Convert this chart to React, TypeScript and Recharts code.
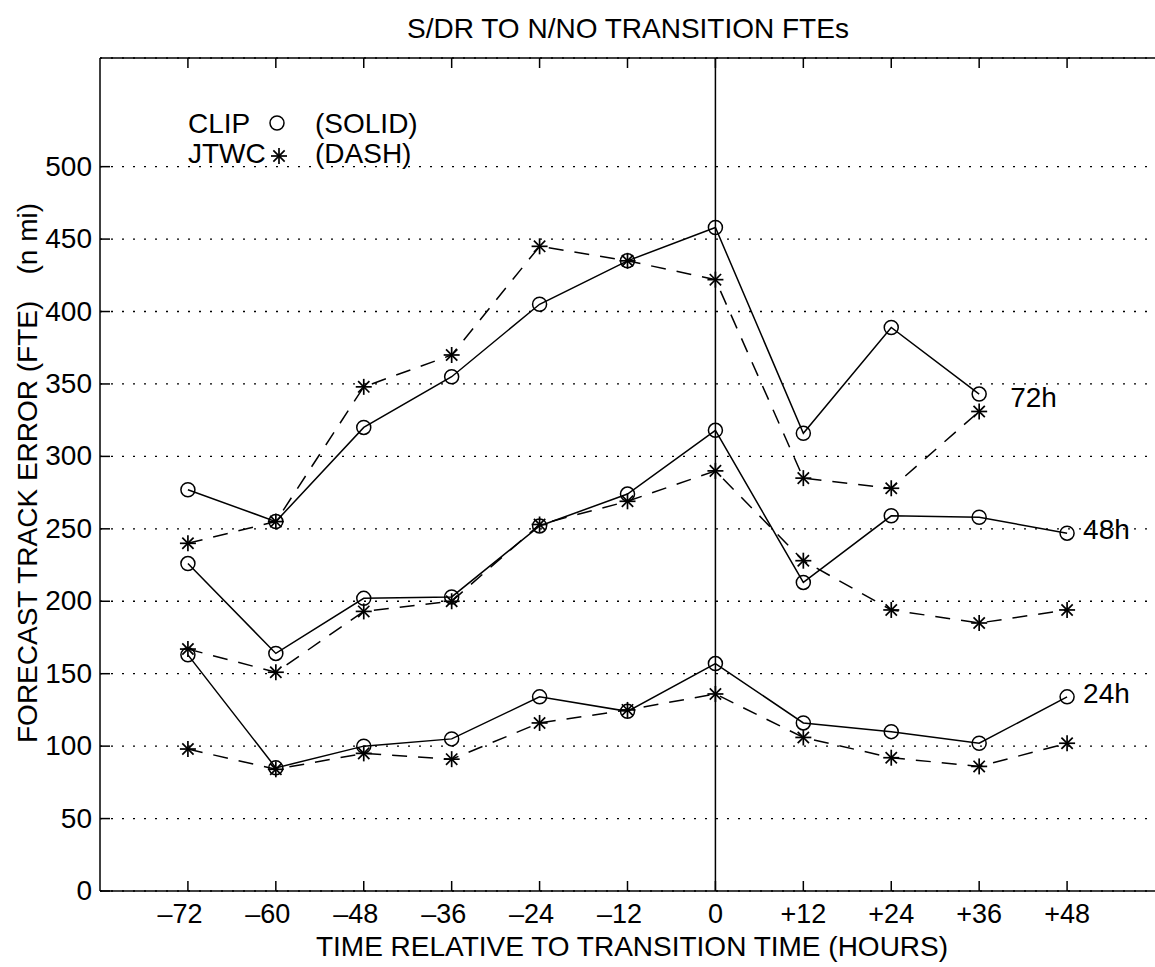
import React from "react";
import {
  LineChart,
  Line,
  XAxis,
  YAxis,
  CartesianGrid,
  ReferenceLine,
  Customized,
} from "recharts";

const FONT = "'Liberation Sans', Arial, Helvetica, sans-serif";

// hours relative to transition time
const hours = [-72, -60, -48, -36, -24, -12, 0, 12, 24, 36, 48];

// forecast track errors (n mi)
const clip72 = [277, 255, 320, 355, 405, 435, 458, 316, 389, 343, null];
const jtwc72 = [240, 255, 348, 370, 445, 435, 422, 285, 278, 331, null];
const clip48 = [226, 164, 202, 203, 252, 274, 318, 213, 259, 258, 247];
const jtwc48 = [167, 151, 193, 200, 253, 269, 290, 228, 194, 185, 194];
const clip24 = [163, 85, 100, 105, 134, 124, 157, 116, 110, 102, 134];
const jtwc24 = [98, 84, 95, 91, 116, 125, 136, 106, 92, 86, 102];

const yTicks = [0, 50, 100, 150, 200, 250, 300, 350, 400, 450, 500];

const data = hours.map((h, i) => ({
  h,
  clip72: clip72[i],
  jtwc72: jtwc72[i],
  clip48: clip48[i],
  jtwc48: jtwc48[i],
  clip24: clip24[i],
  jtwc24: jtwc24[i],
}));

const fmtHour = (v: number) => (v < 0 ? `\u2013${-v}` : v > 0 ? `+${v}` : "0");

function starMark(cx: number, cy: number, r: number) {
  return [0, 45, 90, 135].map((a) => {
    const rad = (a * Math.PI) / 180;
    const dx = r * Math.cos(rad);
    const dy = r * Math.sin(rad);
    return (
      <line
        key={a}
        x1={cx - dx}
        y1={cy - dy}
        x2={cx + dx}
        y2={cy + dy}
        stroke="#000"
        strokeWidth={1.7}
      />
    );
  });
}

const CircleDot = (p: any) => {
  if (p.value == null || p.cy == null) return <g key={`c-${p.dataKey}-${p.index}`} />;
  return (
    <circle
      key={`c-${p.dataKey}-${p.index}`}
      cx={p.cx}
      cy={p.cy}
      r={7}
      fill="none"
      stroke="#000"
      strokeWidth={1.5}
    />
  );
};

const StarDot = (p: any) => {
  if (p.value == null || p.cy == null) return <g key={`s-${p.dataKey}-${p.index}`} />;
  return <g key={`s-${p.dataKey}-${p.index}`}>{starMark(p.cx, p.cy, 8)}</g>;
};

function endLabel(text: string, values: (number | null)[], dx: number, dy: number) {
  let last = values.length - 1;
  while (last > 0 && values[last] == null) last--;
  return (p: any) => {
    if (p.index !== last) return null;
    return (
      <text x={p.x + dx} y={p.y + dy} fontSize={28} fontFamily={FONT} fill="#000">
        {text}
      </text>
    );
  };
}

const BottomTick = ({ x, y, payload }: any) => {
  const v = payload.value;
  return (
    <g>
      <line x1={x} x2={x} y1={y} y2={y - 10} stroke="#000" strokeWidth={1.5} />
      <text
        x={v < 0 ? x - 8 : x}
        y={y + 32}
        textAnchor="middle"
        fontSize={27}
        fontFamily={FONT}
        fill="#000"
      >
        {fmtHour(v)}
      </text>
    </g>
  );
};

const TopTick = ({ x, y }: any) => (
  <line x1={x} x2={x} y1={y} y2={y + 10} stroke="#000" strokeWidth={1.5} />
);

const LeftTick = ({ x, y, payload }: any) => (
  <g>
    <line x1={x} x2={x + 10} y1={y} y2={y} stroke="#000" strokeWidth={1.5} />
    <text x={x - 8} y={y + 9} textAnchor="end" fontSize={28} fontFamily={FONT} fill="#000">
      {payload.value}
    </text>
  </g>
);

const Annotations = () => (
  <g fontFamily={FONT} fontSize={28} fill="#000">
    <text x={628} y={38} textAnchor="middle">
      S/DR TO N/NO TRANSITION FTEs
    </text>
    <text x={632} y={956} textAnchor="middle">
      TIME RELATIVE TO TRANSITION TIME (HOURS)
    </text>
    <text transform="translate(37,743) rotate(-90)" textAnchor="start">
      FORECAST TRACK ERROR (FTE)
    </text>
    <text transform="translate(37,203) rotate(-90)" textAnchor="end">
      (n mi)
    </text>
    <text x={188} y={133}>CLIP</text>
    <circle cx={277} cy={123} r={7} fill="none" stroke="#000" strokeWidth={1.5} />
    <text x={315} y={133}>(SOLID)</text>
    <text x={188} y={163}>JTWC</text>
    {starMark(279, 156, 8)}
    <text x={315} y={163}>(DASH)</text>
  </g>
);

export default function App() {
  return (
    <div style={{ position: "absolute", left: 0, top: 0, width: 1155, height: 967, background: "#fff" }}>
      <LineChart
        width={1155}
        height={967}
        data={data}
        margin={{ top: 38, right: 0, bottom: 0, left: 0 }}
      >
        <CartesianGrid
          vertical={false}
          stroke="#000"
          strokeWidth={1.3}
          strokeDasharray="2 9"
        />
        <XAxis
          dataKey="h"
          type="number"
          domain={[-84, 60]}
          ticks={hours}
          allowDataOverflow
          height={76}
          tickSize={0}
          tickMargin={0}
          tickLine={false}
          tick={<BottomTick />}
          axisLine={{ stroke: "#000", strokeWidth: 1.5 }}
          interval={0}
        />
        <XAxis
          xAxisId="top"
          orientation="top"
          dataKey="h"
          type="number"
          domain={[-84, 60]}
          ticks={hours}
          allowDataOverflow
          height={20}
          tickSize={0}
          tickMargin={0}
          tickLine={false}
          tick={<TopTick />}
          axisLine={{ stroke: "#000", strokeWidth: 1.5 }}
          interval={0}
        />
        <YAxis
          type="number"
          domain={[0, 575]}
          ticks={yTicks}
          allowDataOverflow
          width={100}
          tickSize={0}
          tickMargin={0}
          tickLine={false}
          tick={<LeftTick />}
          axisLine={{ stroke: "#000", strokeWidth: 1.5 }}
          interval={0}
        />
        <ReferenceLine x={0} stroke="#000" strokeWidth={1.5} />

        <Line
          dataKey="clip72"
          stroke="#000"
          strokeWidth={1.5}
          dot={CircleDot}
          activeDot={false}
          isAnimationActive={false}
          label={endLabel("72h", clip72, 31, 13)}
        />
        <Line
          dataKey="jtwc72"
          stroke="#000"
          strokeWidth={1.5}
          strokeDasharray="15 11"
          dot={StarDot}
          activeDot={false}
          isAnimationActive={false}
        />
        <Line
          dataKey="clip48"
          stroke="#000"
          strokeWidth={1.5}
          dot={CircleDot}
          activeDot={false}
          isAnimationActive={false}
          label={endLabel("48h", clip48, 16, 6)}
        />
        <Line
          dataKey="jtwc48"
          stroke="#000"
          strokeWidth={1.5}
          strokeDasharray="15 11"
          dot={StarDot}
          activeDot={false}
          isAnimationActive={false}
        />
        <Line
          dataKey="clip24"
          stroke="#000"
          strokeWidth={1.5}
          dot={CircleDot}
          activeDot={false}
          isAnimationActive={false}
          label={endLabel("24h", clip24, 16, 6)}
        />
        <Line
          dataKey="jtwc24"
          stroke="#000"
          strokeWidth={1.5}
          strokeDasharray="15 11"
          dot={StarDot}
          activeDot={false}
          isAnimationActive={false}
        />
        <Customized component={Annotations} />
      </LineChart>
    </div>
  );
}
